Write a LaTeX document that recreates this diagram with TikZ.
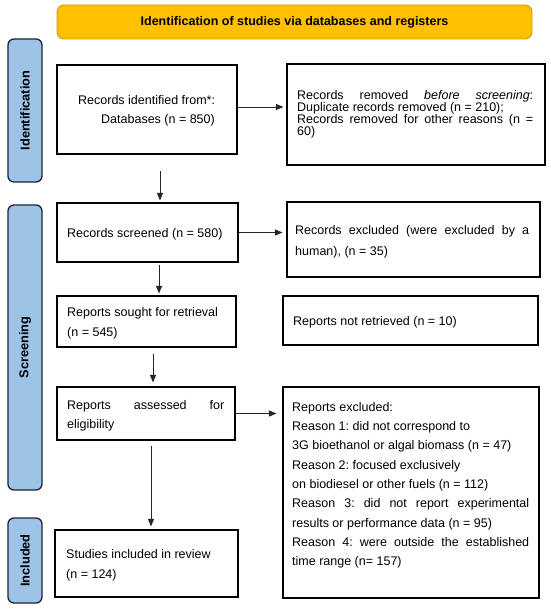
\documentclass[tikz,border=0pt]{standalone}
\usepackage{fontspec}
\setmainfont{Liberation Sans}
\usetikzlibrary{arrows.meta}
\definecolor{bannerfill}{HTML}{FFC000}
\definecolor{bannerline}{HTML}{D19E00}
\definecolor{sidefill}{HTML}{9DC3E6}
\definecolor{sideline}{HTML}{1C2633}
\frenchspacing
\begin{document}
\begin{tikzpicture}[x=1pt,y=-1pt,
  box/.style={draw=black, line width=1.1pt, inner sep=0pt},
  side/.style={draw=sideline, fill=sidefill, line width=1.3pt, rounded corners=6pt, inner sep=0pt},
  banner/.style={draw=bannerline, fill=bannerfill, line width=0.9pt, rounded corners=7pt, inner sep=0pt,
    font=\fontsize{12.5}{15}\selectfont\bfseries},
  sidetxt/.style={rotate=90, inner sep=0pt, font=\fontsize{12.8}{15}\selectfont\bfseries},
  txt/.style={anchor=base west, inner sep=0pt, font=\fontsize{12.5}{15}\selectfont},
  arr/.style={draw=black!85, line width=0.8pt, -{Triangle[length=7.5pt,width=6pt]}}]
\useasboundingbox (0,0) rectangle (550,610);
\fill[white] (0,0) rectangle (550,610);

% banner
\node[banner, minimum width=475pt, minimum height=34pt] (ban) at (294.5,22) {Identification of studies via databases and registers};

% side bars
\node[side, minimum width=34pt, minimum height=143pt] (sid) at (25,110.5) {};
\node[sidetxt] (sidt) at (sid.center) {Identification};
\node[side, minimum width=34pt, minimum height=285pt] (sscr) at (25,347.5) {};
\node[sidetxt] (sscrt) at (sscr.center) {Screening};
\node[side, minimum width=34pt, minimum height=85pt] (sinc) at (25,560.5) {};
\node[sidetxt] (sinct) at (sinc.center) {Included};

% boxes
\node[box, minimum width=180pt, minimum height=89pt] (b1) at (147,109.5) {};
\node[box, minimum width=258pt, minimum height=101pt] (r1) at (416,114.5) {};
\node[box, minimum width=181pt, minimum height=59pt] (b2) at (147.5,232.5) {};
\node[box, minimum width=253pt, minimum height=75pt] (r2) at (413.5,239.5) {};
\node[box, minimum width=179pt, minimum height=51pt] (b3) at (146.5,321.5) {};
\node[box, minimum width=255pt, minimum height=49pt] (r3) at (410.5,320.5) {};
\node[box, minimum width=178pt, minimum height=53pt] (b4) at (146,413.5) {};
\node[box, minimum width=256pt, minimum height=211pt] (r4) at (411,492.5) {};
\node[box, minimum width=183pt, minimum height=67pt] (b5) at (146.5,563.5) {};

% texts
\node[txt] (t1a) at (78,104.2) {Records identified from*:};
\node[txt] (t1b) at (101,123.2) {Databases (n = 850)};

\node[txt] (u1a) at (297,99) {\makebox[236pt][s]{Records removed \textit{before screening}:}};
\node[txt] (u1b) at (297,111) {Duplicate records removed (n = 210);};
\node[txt] (u1c) at (297,123) {\makebox[236pt][s]{Records removed for other reasons (n =}};
\node[txt] (u1d) at (297,135) {60)};

\node[txt] (t2a) at (67,237.2) {Records screened (n = 580)};
\node[txt] (u2a) at (295,234.2) {\makebox[234pt][s]{Records excluded (were excluded by a}};
\node[txt] (u2b) at (295,255.2) {human), (n = 35)};

\node[txt] (t3a) at (67,316.2) {Reports sought for retrieval};
\node[txt] (t3b) at (67,336.2) {(n = 545)};
\node[txt] (u3a) at (293,325.2) {Reports not retrieved (n = 10)};

\node[txt] (t4a) at (67,409.2) {\makebox[157pt][s]{Reports assessed for}};
\node[txt] (t4b) at (67,428.2) {eligibility};

\node[txt] (u4a) at (292,411.2) {Reports excluded:};
\node[txt] (u4b) at (292,430.5) {Reason 1: did not correspond to};
\node[txt] (u4c) at (292,449.8) {3G bioethanol or algal biomass (n = 47)};
\node[txt] (u4d) at (292,469.1) {Reason 2: focused exclusively};
\node[txt] (u4e) at (292,488.4) {on biodiesel or other fuels (n = 112)};
\node[txt] (u4f) at (292,507.7) {\makebox[237pt][s]{Reason 3: did not report experimental}};
\node[txt] (u4g) at (292,527.0) {results or performance data (n = 95)};
\node[txt] (u4h) at (292,546.3) {\makebox[237pt][s]{Reason 4: were outside the established}};
\node[txt] (u4i) at (292,565.6) {time range (n= 157)};

\node[txt] (t5a) at (66,558.2) {Studies included in review};
\node[txt] (t5b) at (66,578.2) {(n = 124)};

% connectors
\coordinate (h1) at (0,107);
\draw[arr, shorten >=3pt] (b1.east |- h1) -- (r1.west |- h1);
\coordinate (v1) at (160,171);
\draw[arr, shorten >=2pt] (v1) -- (v1 |- b2.north);
\draw[arr, shorten >=4pt] (b2.east) -- (r2.west |- b2.east);
\coordinate (v2) at (159,262);
\draw[arr, shorten <=2pt, shorten >=2pt] (b2.south -| v2) -- (b3.north -| v2);
\coordinate (v3) at (153,347);
\draw[arr, shorten <=6pt, shorten >=4pt] (b3.south -| v3) -- (b4.north -| v3);
\draw[arr, shorten >=6pt] (b4.east) -- (r4.west |- b4.east);
\coordinate (v4) at (151,440);
\draw[arr, shorten <=5pt, shorten >=3pt] (b4.south -| v4) -- (b5.north -| v4);
\end{tikzpicture}
\end{document}
